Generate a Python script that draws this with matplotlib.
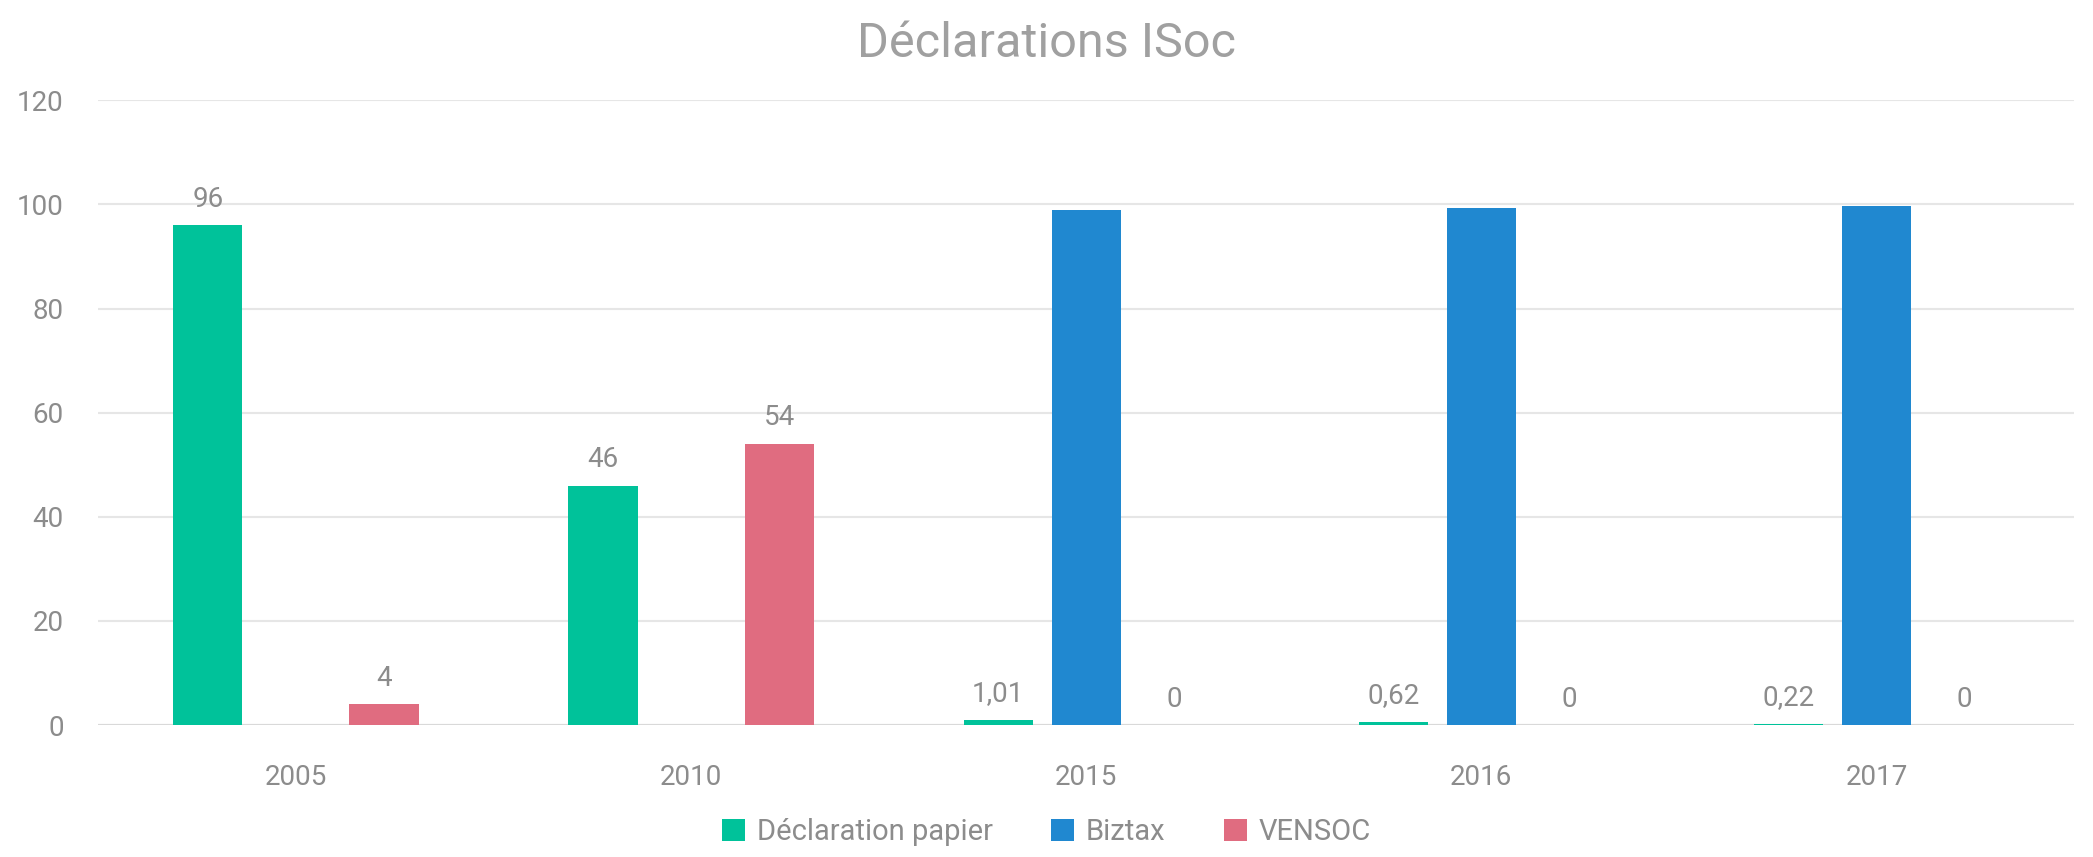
import matplotlib
matplotlib.use("Agg")
import matplotlib.pyplot as plt
import numpy as np

# data
years = ["2005", "2010", "2015", "2016", "2017"]
papier = [96, 46, 1.01, 0.62, 0.22]
biztax = [np.nan, np.nan, 98.99, 99.38, 99.78]
vensoc = [4, 54, 0, 0, 0]

papier_lbl = ["96", "46", "1,01", "0,62", "0,22"]
vensoc_lbl = ["4", "54", "0", "0", "0"]

c_green = "#00C29A"
c_blue = "#2088D0"
c_red = "#E06C80"
c_text = "#8C8C8C"

plt.rcParams["font.family"] = ["Roboto", "DejaVu Sans"]

fig = plt.figure(figsize=(20.93, 8.57), dpi=100)
ax = fig.add_axes([0.047, 0.154, 0.944, 0.729])

x = np.arange(len(years))
w = 0.175
off = 0.223

b1 = ax.bar(x - off, papier, w, color=c_green, label="Déclaration papier", zorder=3)
b2 = ax.bar(x, biztax, w, color=c_blue, label="Biztax", zorder=3)
b3 = ax.bar(x + off, vensoc, w, color=c_red, label="VENSOC", zorder=3)

ax.bar_label(b1, labels=papier_lbl, padding=9, color=c_text, fontsize=20)
ax.bar_label(b3, labels=vensoc_lbl, padding=9, color=c_text, fontsize=20)

ax.set_xlim(-0.5, len(years) - 0.5)
ax.set_ylim(0, 120)
ax.set_yticks(range(0, 121, 20))
ax.set_xticks(x)
ax.set_xticklabels(years)
ax.tick_params(axis="both", length=0, labelsize=20, labelcolor=c_text)
ax.tick_params(axis="x", pad=28)
ax.tick_params(axis="y", pad=25)
ax.yaxis.grid(True, color="#E6E6E6", linewidth=1.5, zorder=0)
for s in ax.spines.values():
    s.set_visible(False)
ax.axhline(0, color="#D9D9D9", linewidth=1.5, zorder=2)

fig.suptitle("Déclarations ISoc", y=0.975, fontsize=35, color="#A0A0A0")

fig.legend(loc="lower center", bbox_to_anchor=(0.5, -0.018), ncol=3, frameon=False,
           fontsize=21, labelcolor=c_text, handlelength=0.8, handleheight=0.8,
           handletextpad=0.4, columnspacing=2.0)

fig.savefig("out.png", dpi=100)
